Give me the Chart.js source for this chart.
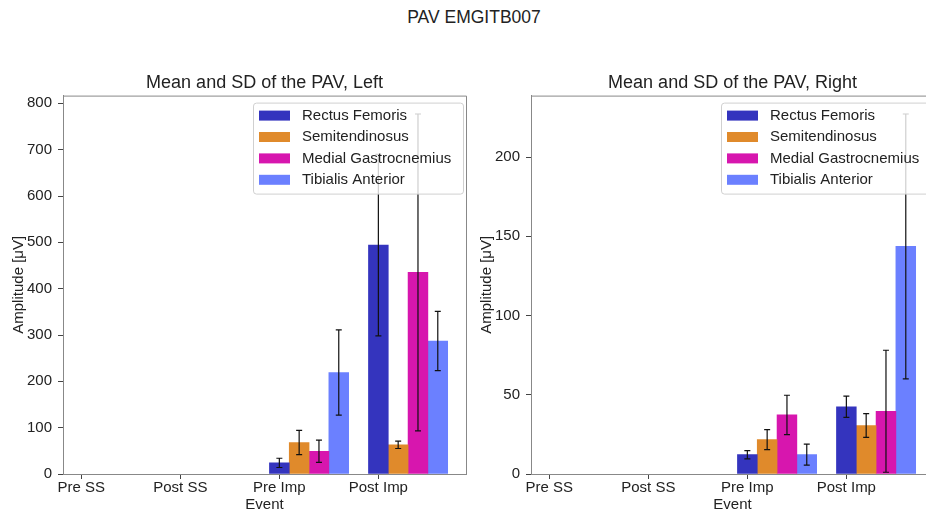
<!DOCTYPE html>
<html>
<head>
<meta charset="utf-8">
<script src="https://cdn.jsdelivr.net/npm/chart.js@4.4.1/dist/chart.umd.min.js"></script>
<style>
  html, body { margin: 0; padding: 0; background: #fff; }
  body { width: 926px; height: 515px; overflow: hidden; position: relative; font-family: 'Liberation Sans', Arial, sans-serif; }
  #suptitle { position: absolute; left: 0; width: 948px; top: 7px; text-align: center; font-size: 17.5px; color: #222; }
  .panel { position: absolute; top: 0; width: 480px; height: 515px; }
  #left-panel { left: 0; }
  #right-panel { left: 468px; }
</style>
</head>
<body>
<div id="suptitle">PAV EMGITB007</div>
<div class="panel" id="left-panel"><canvas id="left-chart" width="480" height="515"></canvas></div>
<div class="panel" id="right-panel"><canvas id="right-chart" width="480" height="515"></canvas></div>
<script>
// Data
const events = ['Pre SS', 'Post SS', 'Pre Imp', 'Post Imp'];
const muscles = ['Rectus Femoris', 'Semitendinosus', 'Medial Gastrocnemius', 'Tibialis Anterior'];
const colors = ['#3434be', '#e08a2b', '#d716ae', '#6b80ff'];

// means per muscle (rows) and event (columns)
const leftMean = [
  [null, null, 24, 494],
  [null, null, 68, 63],
  [null, null, 49, 435],
  [null, null, 219, 287],
];
const leftSd = [
  [null, null, 10, 196],
  [null, null, 26, 8],
  [null, null, 24, 342],
  [null, null, 92, 64],
];
const rightMean = [
  [null, null, 12.2, 42.4],
  [null, null, 21.7, 30.6],
  [null, null, 37.3, 39.6],
  [null, null, 12.2, 143.6],
];
const rightSd = [
  [null, null, 2.6, 6.7],
  [null, null, 6.3, 7.5],
  [null, null, 12.4, 38.5],
  [null, null, 6.6, 83.6],
];

const barWidth = 0.2;
const FONT = "'Liberation Sans', Arial, sans-serif";

// error bars drawn on top of the bars
const errorBars = {
  id: 'errorBars',
  afterDatasetsDraw(chart) {
    const ctx = chart.ctx;
    const y = chart.scales.y;
    ctx.save();
    ctx.strokeStyle = '#111';
    ctx.lineWidth = 1.2;
    chart.data.datasets.forEach((ds, d) => {
      const meta = chart.getDatasetMeta(d);
      meta.data.forEach((bar, i) => {
        const sd = ds.sd[i];
        const m = ds.data[i].y;
        if (sd == null || m == null) return;
        const x = bar.x;
        const top = y.getPixelForValue(m + sd);
        const bot = y.getPixelForValue(m - sd);
        ctx.beginPath();
        ctx.moveTo(x, top); ctx.lineTo(x, bot);
        ctx.moveTo(x - 3, top); ctx.lineTo(x + 3, top);
        ctx.moveTo(x - 3, bot); ctx.lineTo(x + 3, bot);
        ctx.stroke();
      });
    });
    // top and right spines
    const a = chart.chartArea;
    ctx.strokeStyle = '#888';
    ctx.lineWidth = 1;
    ctx.beginPath();
    ctx.moveTo(a.left, a.top + 0.5); ctx.lineTo(a.right + 0.5, a.top + 0.5); ctx.lineTo(a.right + 0.5, a.bottom);
    ctx.stroke();
    ctx.restore();
  },
  afterDraw(chart) {
    // matplotlib-like legend, upper right inside the axes
    const ctx = chart.ctx;
    const a = chart.chartArea;
    const w = 210, h = 91;
    const lx = a.right - 213, ly = a.top + 7;
    ctx.save();
    ctx.fillStyle = 'rgba(255,255,255,0.8)';
    ctx.strokeStyle = '#d0d0d0';
    ctx.lineWidth = 1;
    ctx.beginPath();
    ctx.roundRect(lx + 0.5, ly + 0.5, w, h, 3);
    ctx.fill();
    ctx.stroke();
    ctx.font = '15px ' + FONT;
    ctx.textBaseline = 'middle';
    muscles.forEach((name, k) => {
      const cy = ly + 13 + k * 21.4;
      ctx.fillStyle = colors[k];
      ctx.fillRect(lx + 6, cy - 5, 31, 10);
      ctx.fillStyle = '#222';
      ctx.fillText(name, lx + 49, cy);
    });
    ctx.restore();
  }
};

function makeChart(id, title, means, sds, yMax, yStep) {
  const datasets = muscles.map((name, k) => ({
    label: name,
    data: events.map((e, i) => ({ x: i + k * barWidth, y: means[k][i] })),
    sd: sds[k],
    backgroundColor: colors[k],
    borderWidth: 0,
    grouped: false,
    barPercentage: 1,
    categoryPercentage: 1,
  }));

  return new Chart(document.getElementById(id), {
    type: 'bar',
    data: { datasets },
    plugins: [errorBars],
    options: {
      responsive: false,
      animation: false,
      layout: { padding: { left: 0, right: 14, top: 0, bottom: 0 } },
      plugins: {
        legend: { display: false },
        tooltip: { enabled: false },
        title: {
          display: true,
          text: title,
          fullSize: false,
          color: '#222',
          font: { family: FONT, size: 18, weight: 'normal' },
          padding: { top: 72, bottom: 2 },
        },
      },
      scales: {
        x: {
          type: 'linear',
          offset: false,
          min: -0.185,
          max: 3.885,
          afterBuildTicks: s => { s.ticks = events.map((e, i) => ({ value: i })); },
          afterFit: s => { s.height = 41; },
          ticks: {
            autoSkip: false,
            maxRotation: 0,
            padding: 0,
            color: '#222',
            font: { family: FONT, size: 15 },
            callback: v => events[v],
          },
          grid: { drawOnChartArea: false, offset: false, tickLength: 5, color: '#444' },
          border: { color: '#888', width: 1 },
          title: {
            display: true,
            text: 'Event',
            color: '#222',
            font: { family: FONT, size: 15 },
            padding: { top: 0, bottom: 1 },
          },
        },
        y: {
          min: 0,
          max: yMax,
          afterFit: s => { s.width = 63; },
          ticks: {
            stepSize: yStep,
            includeBounds: false,
            padding: 6,
            color: '#222',
            font: { family: FONT, size: 15 },
          },
          grid: { drawOnChartArea: false, tickLength: 5, color: '#444' },
          border: { color: '#888', width: 1 },
          title: {
            display: true,
            text: 'Amplitude [μV]',
            color: '#222',
            font: { family: FONT, size: 15 },
            padding: { top: 10, bottom: 0 },
          },
        },
      },
    },
  });
}

makeChart('left-chart', 'Mean and SD of the PAV, Left', leftMean, leftSd, 816.7, 100);
makeChart('right-chart', 'Mean and SD of the PAV, Right', rightMean, rightSd, 238.8, 50);
</script>
</body>
</html>
